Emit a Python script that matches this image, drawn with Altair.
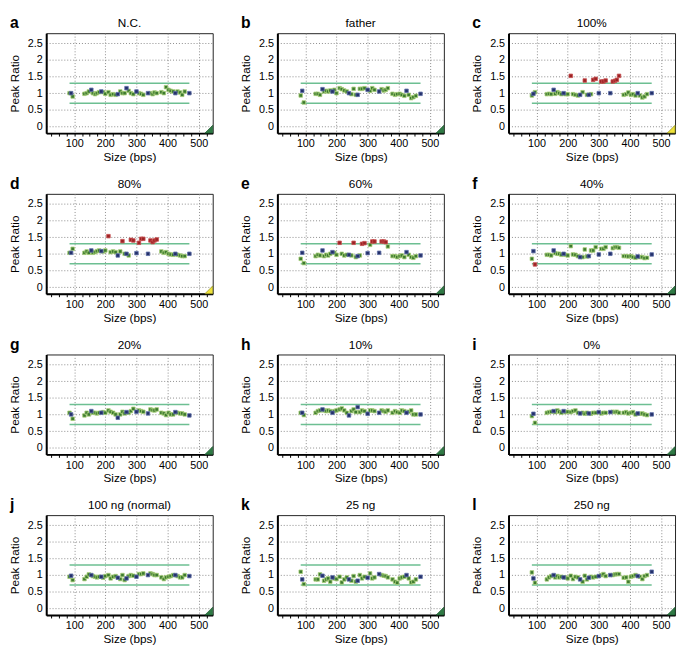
import altair as alt
import pandas as pd

# ---------------- data ----------------
SIZES = [85, 90, 95, 133, 140, 147, 155, 160, 167, 173, 180, 187, 193, 200,
         210, 217, 225, 233, 240, 248, 255, 262, 268, 275, 282, 290,
         300, 308, 315, 322, 337, 345, 352, 358, 365,
         380, 388, 395, 403, 410, 418, 425, 432, 440, 447, 455, 470]
BLUE_LOCI = [90, 155, 187, 240, 268, 300, 337, 425, 470]
RED_LOCI_CD = [210, 255, 282, 290, 308, 315, 322, 345, 352, 358, 365]
RED_LOCI_E = [210, 255, 282, 290, 315, 322, 345, 352, 358]
RED_LOCI_F = [95]

PANEL_LETTERS = ["a", "b", "c", "d", "e", "f", "g", "h", "i", "j", "k", "l"]
PANEL_TITLES = ["N.C.", "father", "100%", "80%", "60%", "40%",
                "20%", "10%", "0%", "100 ng (normal)", "25 ng", "250 ng"]

RATIO_A = [1.0, 1.0, 0.9, 0.98, 1.0, 1.05, 1.1, 1.0, 0.97, 1.0, 1.03, 1.05, 1.03, 0.98,
           1.03, 0.95, 0.97, 0.95, 0.97, 1.05, 1.0, 1.0, 1.15, 1.07, 1.0, 0.97,
           1.05, 1.0, 0.98, 0.95, 1.0, 1.0, 0.97, 1.02, 1.0,
           1.03, 1.0, 1.18, 1.1, 1.07, 1.05, 1.0, 1.05, 1.02, 0.95, 1.05, 1.0]
RATIO_B = [0.93, 1.07, 0.72, 0.98, 0.98, 0.95, 1.12, 1.05, 1.07, 1.05, 1.08, 1.05, 1.1, 1.0,
           1.15, 1.12, 1.08, 1.05, 1.0, 0.97, 1.13, 0.95, 0.95, 1.13, 1.13, 1.15,
           1.1, 1.07, 1.15, 1.1, 1.05, 1.12, 1.08, 1.1, 1.15,
           0.98, 0.95, 0.97, 0.98, 0.95, 0.92, 1.07, 0.95, 0.85, 0.88, 0.92, 0.98]
RATIO_C = [0.93, 0.98, 1.03, 0.97, 0.98, 0.97, 1.1, 0.98, 1.03, 1.0, 0.97, 1.0, 0.97, 0.97,
           1.52, 0.97, 0.95, 0.93, 0.95, 1.03, 1.38, 0.95, 0.95, 0.97, 1.4, 1.43,
           1.0, 1.35, 1.35, 1.38, 1.0, 1.35, 1.37, 1.4, 1.52,
           0.95, 0.97, 1.02, 0.95, 0.97, 0.93, 1.0, 0.93, 0.87, 0.9, 0.97, 1.0]
RATIO_D = [1.03, 1.03, 1.15, 1.03, 1.07, 1.03, 1.1, 1.03, 1.05, 1.08, 1.1, 1.08, 1.07, 1.1,
           1.53, 1.05, 1.07, 1.05, 0.95, 1.07, 1.38, 1.0, 1.0, 0.95, 1.42, 1.4,
           1.02, 1.33, 1.45, 1.45, 1.0, 1.4, 1.35, 1.4, 1.43,
           1.07, 1.03, 1.05, 1.0, 0.98, 0.97, 1.0, 0.97, 0.95, 0.93, 0.93, 1.0]
RATIO_E = [0.85, 1.03, 0.72, 0.93, 0.97, 0.95, 1.1, 0.93, 0.97, 0.95, 1.0, 1.05, 1.03, 0.97,
           1.33, 1.0, 0.95, 0.97, 0.97, 0.95, 1.33, 0.9, 0.93, 0.95, 1.3, 1.32,
           1.02, 1.27, 1.37, 1.37, 1.03, 1.37, 1.37, 1.35, 1.22,
           0.93, 0.93, 0.9, 0.93, 0.95, 0.9, 1.05, 0.97, 0.9, 0.88, 0.93, 0.95]
RATIO_F = [0.85, 1.08, 0.68, 0.97, 0.97, 0.95, 1.1, 1.02, 1.0, 1.0, 0.97, 1.0, 0.97, 0.95,
           1.23, 0.98, 0.97, 0.93, 0.9, 0.9, 1.13, 0.92, 0.93, 1.1, 1.1, 1.2,
           0.98, 1.15, 1.15, 1.2, 1.0, 1.17, 1.2, 1.2, 1.18,
           0.93, 0.93, 0.92, 0.93, 0.9, 0.88, 0.92, 0.9, 0.9, 0.87, 0.88, 0.98]
RATIO_G = [1.05, 1.0, 0.87, 0.97, 1.05, 1.0, 1.1, 1.05, 1.05, 1.03, 1.05, 1.05, 1.07, 1.05,
           1.12, 1.08, 1.05, 1.0, 0.9, 1.0, 1.08, 1.03, 1.07, 1.05, 1.1, 1.17,
           1.08, 1.12, 1.1, 1.08, 1.03, 1.15, 1.13, 1.12, 1.15,
           1.05, 1.03, 0.98, 1.05, 1.0, 1.0, 1.07, 1.05, 1.03, 1.03, 1.0, 0.97]
RATIO_H = [1.05, 1.05, 0.98, 1.05, 1.1, 1.12, 1.15, 1.12, 1.1, 1.12, 1.1, 1.05, 1.1, 1.12,
           1.15, 1.18, 1.12, 1.05, 0.97, 1.1, 1.15, 1.07, 1.22, 1.07, 1.12, 1.1,
           1.02, 1.12, 1.12, 1.1, 1.05, 1.12, 1.1, 1.08, 1.12,
           1.05, 1.1, 1.07, 1.05, 1.12, 1.1, 1.05, 1.08, 1.12, 1.0, 1.0, 1.0]
RATIO_I = [0.95, 1.02, 0.75, 1.05, 1.07, 1.08, 1.1, 1.07, 1.12, 1.08, 1.05, 1.1, 1.07, 1.08,
           1.07, 1.1, 1.12, 1.05, 1.03, 1.05, 1.02, 1.05, 1.03, 1.02, 1.05, 1.05,
           1.07, 1.03, 1.05, 1.05, 1.07, 1.08, 1.07, 1.08, 1.05,
           1.05, 1.07, 1.03, 1.05, 1.07, 1.0, 1.03, 1.02, 1.03, 1.0, 0.98, 1.0]
RATIO_J = [0.95, 0.98, 0.85, 0.88, 0.95, 1.02, 1.0, 0.97, 0.95, 0.93, 0.95, 0.95, 0.92, 0.97,
           1.0, 0.9, 0.95, 0.97, 0.92, 0.88, 1.0, 0.85, 0.9, 0.97, 1.0, 0.98,
           0.95, 1.03, 1.03, 1.05, 1.0, 1.05, 1.03, 1.0, 1.0,
           0.93, 0.88, 0.93, 0.95, 0.97, 1.0, 1.0, 0.97, 0.93, 0.93, 1.0, 0.97]
RATIO_K = [1.1, 0.87, 0.73, 0.87, 0.87, 1.02, 0.98, 0.83, 0.87, 0.9, 0.8, 0.93, 0.9, 0.88,
           0.95, 0.78, 0.87, 0.93, 0.87, 0.83, 0.97, 0.8, 0.83, 1.0, 0.9, 0.95,
           0.92, 1.05, 0.9, 0.93, 1.03, 1.0, 0.98, 0.97, 0.93,
           0.87, 0.8, 0.77, 0.9, 0.93, 0.95, 1.0, 0.9, 0.78, 0.8, 0.87, 0.95]
RATIO_L = [1.08, 0.9, 0.77, 0.87, 0.93, 0.97, 1.0, 0.93, 0.97, 0.93, 0.95, 0.93, 0.93, 0.9,
           0.98, 0.88, 0.95, 0.93, 0.87, 0.8, 0.98, 0.87, 0.92, 0.95, 0.93, 0.95,
           0.97, 1.0, 1.03, 0.97, 1.0, 1.0, 1.02, 1.03, 1.03,
           0.92, 0.93, 0.8, 0.95, 0.97, 1.0, 0.97, 0.95, 0.88, 0.97, 1.0, 1.1]

PANEL_RATIOS = [RATIO_A, RATIO_B, RATIO_C, RATIO_D, RATIO_E, RATIO_F,
                RATIO_G, RATIO_H, RATIO_I, RATIO_J, RATIO_K, RATIO_L]
PANEL_RED = [[], [], RED_LOCI_CD, RED_LOCI_CD, RED_LOCI_E, RED_LOCI_F,
             [], [], [], [], [], []]
PANEL_FLAG = ["green", "green", "yellow", "yellow", "green", "green",
              "green", "green", "green", "green", "green", "green"]

THRESH_LOW = 0.7
THRESH_HIGH = 1.3
THRESH_X_START = 85
THRESH_X_END = 470

X_TICKS = list(range(25, 550, 25))
Y_TICKS = [0, 0.5, 1, 1.5, 2, 2.5]

# ---------------- style ----------------
W, H = 170, 102
FONT = "Liberation Sans"
FILL = {"normal": "#3d7a30", "blue": "#24306a", "red": "#9c2326"}
STROKE = {"normal": "#a9d07a", "blue": "#5f6fa8", "red": "#c85050"}
FLAG_FILL = {"green": "#2f7a45", "yellow": "#efe23a"}
FLAG_STROKE = {"green": "#1f5a30", "yellow": "#8a8a20"}

XSCALE = alt.Scale(domain=[10, 545], nice=False, zero=False)
YSCALE = alt.Scale(domain=[-0.2, 2.8], nice=False, zero=False)
XAXIS = alt.Axis(values=X_TICKS, title="Size (bps)",
                 labelExpr="datum.value % 100 === 0 ? datum.label : ''",
                 gridOpacity={"condition": {"test": "datum.value % 100 === 0", "value": 1}, "value": 0},
                 gridDash=[1, 2], gridColor="#8a8a8a", gridWidth=1,
                 domainColor="black", domainWidth=2, tickColor="black", tickSize=3,
                 labelFontSize=11, labelPadding=2, titleFontSize=12,
                 titleFontWeight="normal", titlePadding=3, labelColor="black",
                 titleColor="black", labelFlush=False, labelOverlap=False)
YAXIS = alt.Axis(values=Y_TICKS, title="Peak Ratio", format=".1~f",
                 gridDash=[1, 2], gridColor="#8a8a8a", gridWidth=1,
                 domainColor="black", domainWidth=2, tickSize=0,
                 labelFontSize=11, labelPadding=4, titleFontSize=12,
                 titleFontWeight="normal", titlePadding=6, labelColor="black",
                 titleColor="black", labelOverlap=False, labelFlush=False)


def panel(i):
    df = pd.DataFrame({"size": SIZES, "ratio": PANEL_RATIOS[i]})
    cats = []
    for s in SIZES:
        if s in PANEL_RED[i]:
            cats.append("red")
        elif s in BLUE_LOCI:
            cats.append("blue")
        else:
            cats.append("normal")
    df["cat"] = cats
    df["order"] = df["cat"].map({"normal": 0, "blue": 1, "red": 2})

    thr = pd.DataFrame({"y": [THRESH_LOW, THRESH_HIGH],
                        "x": [THRESH_X_START] * 2, "x2": [THRESH_X_END] * 2})
    rules = alt.Chart(thr).mark_rule(color="#6dbf92", strokeWidth=1.5).encode(
        x=alt.X("x:Q", scale=XSCALE, axis=XAXIS), x2="x2:Q",
        y=alt.Y("y:Q", scale=YSCALE, axis=YAXIS))

    pts = alt.Chart(df).mark_square(size=13, strokeWidth=0.8, opacity=1).encode(
        x=alt.X("size:Q", scale=XSCALE, axis=XAXIS),
        y=alt.Y("ratio:Q", scale=YSCALE, axis=YAXIS),
        fill=alt.Fill("cat:N", scale=alt.Scale(domain=list(FILL), range=list(FILL.values())), legend=None),
        stroke=alt.Stroke("cat:N", scale=alt.Scale(domain=list(STROKE), range=list(STROKE.values())), legend=None),
        order=alt.Order("order:Q"),
    )

    flag = alt.Chart(pd.DataFrame({"f": [PANEL_FLAG[i]]})).mark_point(
        shape="M 1 -1 L 1 1 L -1 1 Z", filled=True, size=64, opacity=1,
        fill=FLAG_FILL[PANEL_FLAG[i]], stroke=FLAG_STROKE[PANEL_FLAG[i]], strokeWidth=0.7
    ).encode(x=alt.value(W - 4), y=alt.value(H - 4))

    letter = alt.Chart(pd.DataFrame({"t": [PANEL_LETTERS[i]]})).mark_text(
        fontSize=16, fontWeight="bold", align="left", baseline="alphabetic",
        font=FONT, color="black"
    ).encode(text="t:N", x=alt.value(-37), y=alt.value(-5))

    title = alt.Chart(pd.DataFrame({"t": [PANEL_TITLES[i]]})).mark_text(
        fontSize=12, align="center", baseline="alphabetic", font=FONT, color="black"
    ).encode(text="t:N", x=alt.value(W / 2), y=alt.value(-6))

    return alt.layer(rules, pts, flag, letter, title).properties(width=W, height=H)


rows = [alt.hconcat(*[panel(r * 3 + c) for c in range(3)], spacing=25) for r in range(4)]
chart = alt.vconcat(*rows, spacing=12).properties(
    padding={"left": 0, "top": 0, "right": 0, "bottom": 0}
).configure(font=FONT).configure_view(stroke="#222", strokeWidth=1)

chart.save("out.html", embed_options={"renderer": "svg", "actions": False})
